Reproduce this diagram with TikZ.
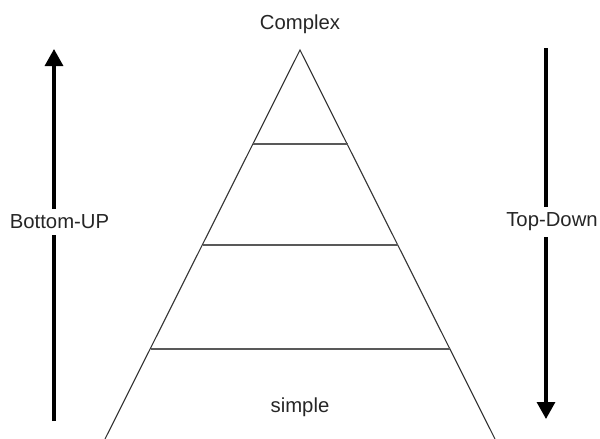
\documentclass[tikz,border=0pt]{standalone}
\usepackage{fontspec}
\setmainfont{Liberation Sans}
\usetikzlibrary{arrows.meta}
\begin{document}
\begin{tikzpicture}[x=0.5pt,y=-0.5pt,
  side/.style={draw=black!80,line width=0.55pt},
  tier/.style={draw=black!65,line width=0.8pt},
  bigarrow/.style={draw=black,line width=1.6pt,-{Triangle[length=8.5pt,width=9pt]}},
  lbl/.style={font=\fontsize{10.15pt}{12pt}\selectfont,text=black!85,inner sep=1pt},
  gaplbl/.style={lbl,fill=white,inner ysep=3pt,inner xsep=1pt}]
\useasboundingbox (0,0) rectangle (600,439);
% pyramid
\coordinate (apex) at (300,50);
\coordinate (bl) at (105,439);
\coordinate (br) at (495,439);
\draw[side] (bl) -- (apex) -- (br);
\draw[tier] (252.5,144) -- (347.5,144);
\draw[tier] (202.5,245) -- (397.5,245);
\draw[tier] (150.5,349) -- (449.5,349);
% labels
\node[lbl] (complex) at (300,24) {Complex};
\node[lbl] (simple) at (300,407) {simple};
% arrows
\coordinate (lb) at (54,421);
\coordinate (lt) at (54,49);
\coordinate (rt) at (546,48);
\coordinate (rb) at (546,419);
\draw[bigarrow] (lb) -- (lt);
\draw[bigarrow] (rt) -- (rb);
\node[gaplbl] (bu) at (59.5,222) {Bottom-UP};
\node[gaplbl] (td) at (552,222) {Top-Down};
\end{tikzpicture}
\end{document}
